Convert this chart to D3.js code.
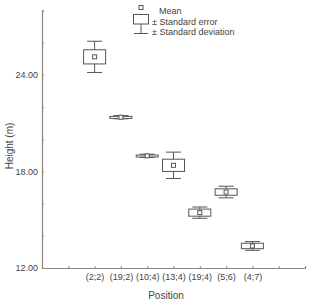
<!DOCTYPE html>
<html>
<head>
<meta charset="utf-8">
<script src="https://cdn.jsdelivr.net/npm/d3@7"></script>
<style>
  body { margin: 0; background: #fff; }
  svg text { font-family: "Liberation Sans", Arial, sans-serif; fill: #444; }
</style>
</head>
<body>
<svg id="chart" width="312" height="300"></svg>
<script>
// data
var positions = ["(2;2)", "(19;2)", "(10;4)", "(13;4)", "(19;4)", "(5;6)", "(4;7)"];
var means     = [25.12, 21.37, 18.97, 18.38, 15.44, 16.72, 13.37];
var stdErr    = [0.44, 0.05, 0.05, 0.38, 0.22, 0.20, 0.17];
var stdDev    = [0.97, 0.10, 0.10, 0.82, 0.35, 0.36, 0.27];
var yTicks    = [12, 14, 16, 18, 20, 22, 24, 26, 28];
var yLabels   = [12, 18, 24];

var svg = d3.select("#chart");
var x = d3.scaleLinear().domain([0, 10]).range([42, 305]);
var y = d3.scaleLinear().domain([12, 28]).range([268, 10.5]);

// axes
var yAxis = svg.append("g").attr("transform", "translate(42,0)")
    .call(d3.axisLeft(y).tickValues(yTicks).tickSize(-2).tickPadding(4)
        .tickFormat(function(d) { return yLabels.indexOf(d) >= 0 ? d3.format(".2f")(d) : ""; }));
var xAxis = svg.append("g").attr("transform", "translate(0,268)")
    .call(d3.axisBottom(x).tickValues(d3.range(1, 11)).tickSize(-2).tickPadding(6)
        .tickFormat(function(d) { return positions[d - 2] || ""; }));
[yAxis, xAxis].forEach(function(a) {
    a.select(".domain").attr("stroke", "#888").attr("stroke-width", 1.2);
    a.selectAll(".tick line").attr("stroke", "#888");
    a.selectAll("text").attr("font-size", 9).attr("fill", "#444");
});

svg.append("text").attr("x", 166).attr("y", 299).attr("text-anchor", "middle")
    .attr("font-size", 10).text("Position");
svg.append("text").attr("transform", "translate(13,146) rotate(-90)")
    .attr("text-anchor", "middle").attr("font-size", 10).text("Height (m)");

// boxes
var rows = positions.map(function(p, i) {
    return { pos: i + 2, m: means[i], se: stdErr[i], sd: stdDev[i] };
});
var stroke = "#555";
var g = svg.append("g").selectAll("g").data(rows).join("g")
    .attr("transform", function(d) { return "translate(" + x(d.pos) + ",0)"; });
g.append("line").attr("y1", function(d) { return y(d.m + d.sd); })
    .attr("y2", function(d) { return y(d.m - d.sd); }).attr("stroke", stroke);
g.append("line").attr("x1", -7.5).attr("x2", 7.5)
    .attr("y1", function(d) { return y(d.m + d.sd); }).attr("y2", function(d) { return y(d.m + d.sd); })
    .attr("stroke", stroke);
g.append("line").attr("x1", -7.5).attr("x2", 7.5)
    .attr("y1", function(d) { return y(d.m - d.sd); }).attr("y2", function(d) { return y(d.m - d.sd); })
    .attr("stroke", stroke);
g.append("rect").attr("x", -11).attr("width", 22)
    .attr("y", function(d) { return y(d.m + d.se); })
    .attr("height", function(d) { return Math.max(2, y(d.m - d.se) - y(d.m + d.se)); })
    .attr("fill", "#fff").attr("stroke", stroke);
g.append("rect").attr("x", -2).attr("width", 4).attr("height", 4)
    .attr("y", function(d) { return y(d.m) - 2; })
    .attr("fill", "#fff").attr("stroke", stroke);

// legend
var lg = svg.append("g");
lg.append("rect").attr("x", 139).attr("y", 5.5).attr("width", 4).attr("height", 4)
    .attr("fill", "#fff").attr("stroke", stroke);
lg.append("rect").attr("x", 133.5).attr("y", 14.5).attr("width", 15).attr("height", 9.5)
    .attr("fill", "#fff").attr("stroke", stroke);
lg.append("line").attr("x1", 141).attr("x2", 141).attr("y1", 24).attr("y2", 33.5).attr("stroke", stroke);
lg.append("line").attr("x1", 134).attr("x2", 148).attr("y1", 33.5).attr("y2", 33.5).attr("stroke", stroke);
lg.append("text").attr("x", 159).attr("y", 13.5).attr("font-size", 9).text("Mean");
lg.append("text").attr("x", 152).attr("y", 24.5).attr("font-size", 9).text("\u00b1 Standard error");
lg.append("text").attr("x", 152).attr("y", 35).attr("font-size", 9).text("\u00b1 Standard deviation");
</script>
</body>
</html>
